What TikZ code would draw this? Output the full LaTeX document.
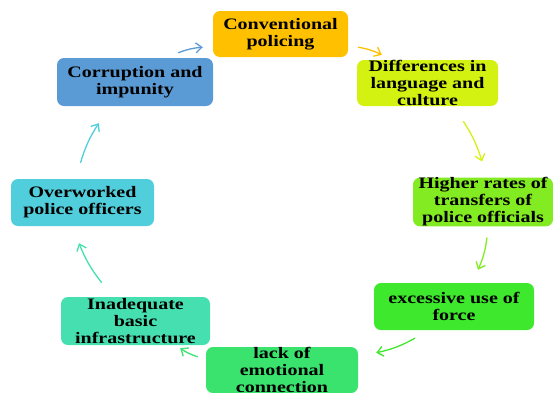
\documentclass[tikz,border=0pt]{standalone}
\usepackage{fontspec}
\setmainfont[FakeStretch=1.25]{Liberation Serif}
\usetikzlibrary{arrows.meta}

\definecolor{naranja}{HTML}{FFC000}
\definecolor{limon}{HTML}{D4F211}
\definecolor{lima}{HTML}{82EB21}
\definecolor{verde}{HTML}{3EE82C}
\definecolor{esmeralda}{HTML}{39E36E}
\definecolor{menta}{HTML}{46E0B0}
\definecolor{cian}{HTML}{50CEDB}
\definecolor{azul}{HTML}{5B9BD5}

\begin{document}
\begin{tikzpicture}[x=1pt,y=-1pt,
    caja/.style={rounded corners=7pt,align=center,inner sep=0pt,
        font=\fontsize{16}{17}\selectfont\bfseries,text=black},
    flecha/.style={line width=1.3pt,-{Straight Barb[length=6pt,width=10pt]}}]
    \useasboundingbox (0,0) rectangle (553,392);

    % Cajas
    \node[caja,fill=naranja,minimum width=135pt,minimum height=46pt] (c1) at (280.5,34) {Conventional\\policing};
    \node[caja,fill=limon,minimum width=141pt,minimum height=46pt] (c2) at (427.5,83) {Differences in\\language and\\culture};
    \node[caja,fill=lima,minimum width=140pt,minimum height=48pt] (c3) at (483,202) {Higher rates of\\transfers of\\police officials};
    \node[caja,fill=verde,minimum width=160pt,minimum height=47pt] (c4) at (454,306.5) {excessive use of\\force};
    \node[caja,fill=esmeralda,minimum width=152pt,minimum height=46pt] (c5) at (282,370) {lack of\\emotional\\connection};
    \node[caja,fill=menta,minimum width=149pt,minimum height=48pt] (c6) at (135.5,321) {Inadequate\\basic\\infrastructure};
    \node[caja,fill=cian,minimum width=143pt,minimum height=47pt] (c7) at (82.5,202.5) {Overworked\\police officers};
    \node[caja,fill=azul,minimum width=156pt,minimum height=48pt] (c8) at (135,82) {Corruption and\\impunity};

    % Flechas
    \draw[flecha,azul] ([shift={(-35,-5)}]c8.north east) to[bend left=8] ([shift={(-10,-10)}]c1.south west);
    \draw[flecha,naranja] ([shift={(10,-10)}]c1.south east) to[bend left=8] ([shift={(25,-5)}]c2.north west);
    \draw[flecha,limon] ([shift={(-35,15)}]c2.south east) to[bend left=8] ([shift={(-1,-16)}]c3.north);
    \draw[flecha,lima] ([shift={(4,11)}]c3.south) to[bend left=8] ([shift={(24,-13)}]c4.north);
    \draw[flecha,verde] ([shift={(-39,8)}]c4.south) to[bend left=8] ([shift={(18,6)}]c5.north east);
    \draw[flecha,esmeralda] ([shift={(-8,10)}]c5.north west) to[bend left=8] ([shift={(-30,3)}]c6.south east);
    \draw[flecha,menta] ([shift={(41,-14)}]c6.north west) to[bend left=8] ([shift={(-3.5,17)}]c7.south);
    \draw[flecha,cian] ([shift={(-2,-16)}]c7.north) to[bend left=8] ([shift={(42,17)}]c8.south west);
\end{tikzpicture}
\end{document}
